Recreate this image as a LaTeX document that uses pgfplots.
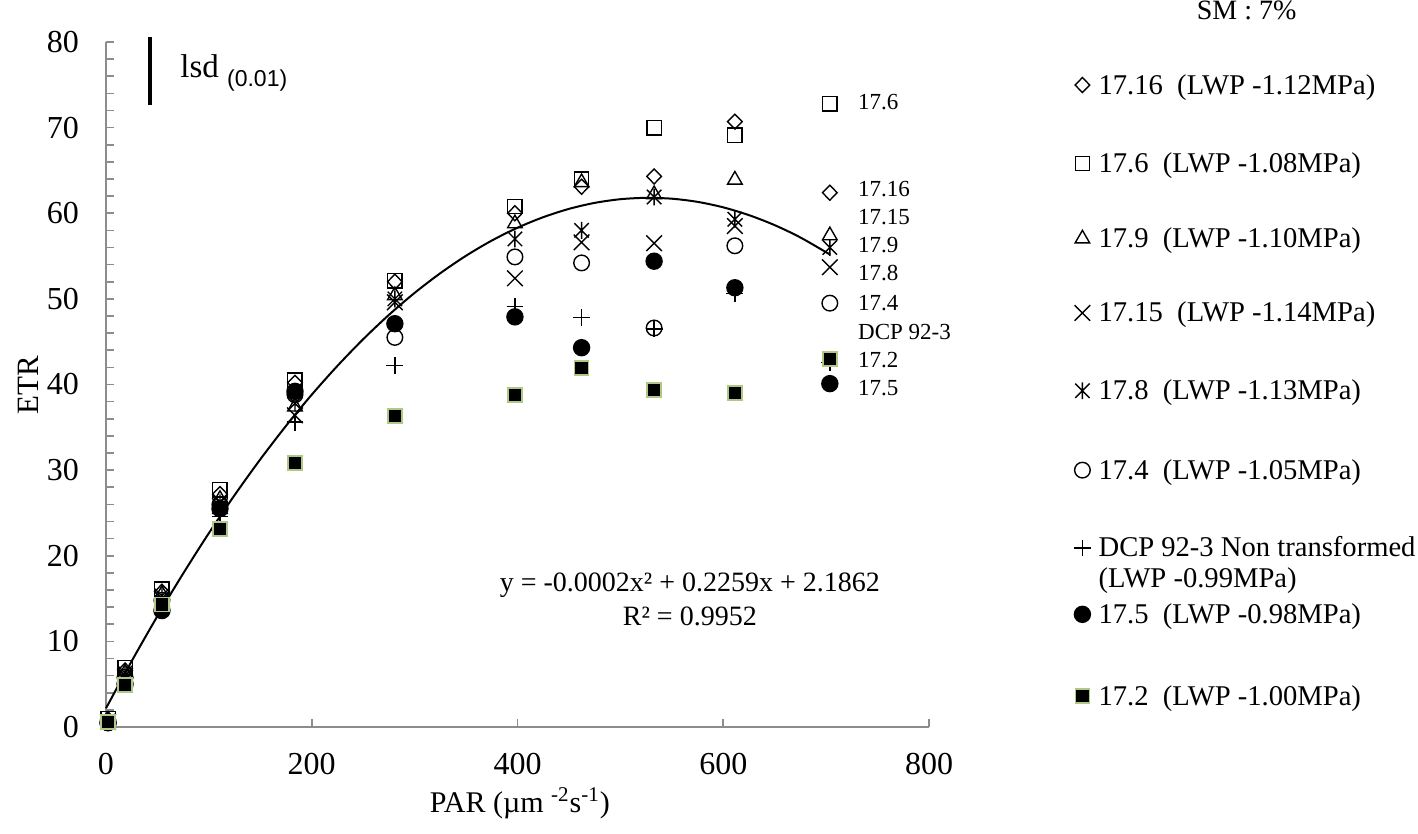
\documentclass[border=0pt]{standalone}
\usepackage{fontspec}
\setmainfont{Liberation Serif}
\newfontfamily\arialfont{Liberation Sans}
\usepackage{pgfplots}
\pgfplotsset{compat=1.18}
\definecolor{axgray}{RGB}{140,140,140}
\definecolor{edgegreen}{RGB}{175,200,135}
\newcommand{\legtxt}[2]{\raisebox{-4.5pt}[#1][0pt]{#2}}
\pgfdeclareplotmark{xx}{%
  \pgfpathmoveto{\pgfqpoint{-\pgfplotmarksize}{-\pgfplotmarksize}}%
  \pgfpathlineto{\pgfqpoint{\pgfplotmarksize}{\pgfplotmarksize}}%
  \pgfpathmoveto{\pgfqpoint{-\pgfplotmarksize}{\pgfplotmarksize}}%
  \pgfpathlineto{\pgfqpoint{\pgfplotmarksize}{-\pgfplotmarksize}}%
  \pgfusepathqstroke}
\pgfdeclareplotmark{xstar}{%
  \pgfpathmoveto{\pgfqpoint{-0.9\pgfplotmarksize}{-0.9\pgfplotmarksize}}%
  \pgfpathlineto{\pgfqpoint{0.9\pgfplotmarksize}{0.9\pgfplotmarksize}}%
  \pgfpathmoveto{\pgfqpoint{-0.9\pgfplotmarksize}{0.9\pgfplotmarksize}}%
  \pgfpathlineto{\pgfqpoint{0.9\pgfplotmarksize}{-0.9\pgfplotmarksize}}%
  \pgfpathmoveto{\pgfqpoint{0pt}{-1.05\pgfplotmarksize}}%
  \pgfpathlineto{\pgfqpoint{0pt}{1.05\pgfplotmarksize}}%
  \pgfusepathqstroke}
\pgfplotsset{
  mk/.style={only marks, black, line width=0.7pt, mark options={solid},
    legend image code/.code={\draw[##1] plot coordinates {(0pt,0pt)};}},
}
\begin{document}
\begin{tikzpicture}
\useasboundingbox (-53pt,-53.5pt) rectangle (656pt,363.5pt);
\begin{axis}[
  at={(0pt,0pt)}, anchor=south west,
  scale only axis, width=411.5pt, height=342.5pt,
  xmin=0, xmax=800, ymin=0, ymax=80,
  axis x line*=bottom, axis y line*=left,
  axis line style={axgray, line width=0.8pt},
  xtick={0,200,...,800}, ytick={0,10,...,80},
  minor y tick num=4,
  tick align=inside,
  major tick length=4pt, minor tick length=4pt,
  tick style={axgray, line width=0.8pt},
  /pgf/number format/assume math mode=true,
  ticklabel style={font=\fontsize{16}{16}\selectfont},
  xticklabel style={yshift=-9.5pt},
  yticklabel style={xshift=-10pt},
  clip=false,
  legend style={at={(1.1762,0.9934)}, anchor=north west, draw=none, fill=none,
    inner sep=0pt, outer sep=0pt, row sep=0pt, column sep=3.9pt,
    font=\fontsize{14.3}{15.5}\selectfont,
    cells={anchor=base west}, nodes={inner sep=0pt, anchor=base west}},
]
% 17.16 diamond
\addplot[mk, mark=diamond, mark size=3.75pt, mark options={xscale=1.3}] coordinates {
(2,0.9) (18.5,6.6) (54.4,15.8) (110.8,27.2) (183.7,40.2) (280.8,52.0) (397.5,60.0) (462.3,63.1) (532.8,64.3) (611.3,70.7) (703.6,62.4)};
\addlegendentry{\legtxt{19.25pt}{17.16\ \ (LWP -1.12MPa)}}
% 17.6 square
\addplot[mk, mark=square, mark size=3.6pt] coordinates {
(2,1.0) (18.5,6.9) (54.4,16.1) (110.8,27.7) (183.7,40.5) (280.8,52.1) (397.5,60.8) (462.3,64.0) (532.8,70.0) (611.3,69.1) (703.6,72.8)};
\addlegendentry{\legtxt{35.5pt}{17.6\ \ (LWP -1.08MPa)}}
% 17.9 triangle
\addplot[mk, mark=triangle, mark size=4.2pt] coordinates {
(2,0.8) (18.5,6.3) (54.4,15.5) (110.8,26.6) (183.7,37.4) (280.8,50.4) (397.5,58.8) (462.3,63.6) (532.8,62.2) (611.3,63.9) (703.6,57.4)};
\addlegendentry{\legtxt{34pt}{17.9\ \ (LWP -1.10MPa)}}
% 17.15 x
\addplot[mk, mark=xx, mark size=3.9pt] coordinates {
(2,0.6) (18.5,6.0) (54.4,15.0) (110.8,25.8) (183.7,36.4) (280.8,49.6) (397.5,52.4) (462.3,56.6) (532.8,56.5) (611.3,58.5) (703.6,53.7)};
\addlegendentry{\legtxt{35pt}{17.15\ \ (LWP -1.14MPa)}}
% 17.8 asterisk
\addplot[mk, mark=xstar, mark size=4pt] coordinates {
(2,0.7) (18.5,6.3) (54.4,15.3) (110.8,26.2) (183.7,37.8) (280.8,50.0) (397.5,57.0) (462.3,58.0) (532.8,61.9) (611.3,59.3) (703.6,56.0)};
\addlegendentry{\legtxt{35pt}{17.8\ \ (LWP -1.13MPa)}}
% 17.4 open circle
\addplot[mk, mark=o, mark size=3.9pt] coordinates {
(2,0.5) (18.5,5.8) (54.4,14.8) (110.8,26.0) (183.7,38.8) (280.8,45.5) (397.5,54.9) (462.3,54.2) (532.8,46.6) (611.3,56.2) (703.6,49.5)};
\addlegendentry{\legtxt{35.5pt}{17.4\ \ (LWP -1.05MPa)}}
% DCP plus
\addplot[mk, mark=+, mark size=4.2pt] coordinates {
(2,0.6) (18.5,5.5) (54.4,14.5) (110.8,24.6) (183.7,35.6) (280.8,42.2) (397.5,49.1) (462.3,47.8) (532.8,46.5) (611.3,50.6) (703.6,42.6)};
\addlegendentry{\legtxt{35pt}{\begin{tabular}[t]{@{}l@{}}DCP 92-3 Non transformed\\(LWP -0.99MPa)\end{tabular}}}
% 17.5 filled circle
\addplot[mk, mark=*, mark size=4pt] coordinates {
(2,0.5) (18.5,5.0) (54.4,13.6) (110.8,25.5) (183.7,39.2) (280.8,47.1) (397.5,47.9) (462.3,44.3) (532.8,54.4) (611.3,51.3) (703.6,40.1)};
\addlegendentry{\legtxt{29pt}{17.5\ \ (LWP -0.98MPa)}}
% 17.2 filled square
\addplot[mk, mark=square*, mark size=3.5pt, mark options={draw=edgegreen, fill=black, line width=0.9pt}] coordinates {
(2,0.6) (18.5,4.9) (54.4,14.3) (110.8,23.1) (183.7,30.8) (280.8,36.3) (397.5,38.8) (462.3,41.9) (532.8,39.4) (611.3,39.0) (703.6,43.0)};
\addlegendentry{\legtxt{37pt}{17.2\ \ (LWP -1.00MPa)}}
% trend line
\addplot[black, line width=1pt, smooth, forget plot] coordinates {
(0,2.19) (25,7.70) (50,12.95) (75,17.92) (100,22.64) (125,27.08) (150,31.26) (175,35.17) (200,38.81) (225,42.18) (250,45.29) (275,48.13) (300,50.70) (325,53.00) (350,55.04) (375,56.81) (400,58.31) (425,59.54) (450,60.51) (475,61.21) (500,61.64) (525,61.80) (550,61.70) (575,61.33) (600,60.69) (625,59.78) (650,58.61) (675,57.17) (704,55.16)};
% lsd bar
\addplot[black, line width=2pt, forget plot] coordinates {(42.8,72.6) (42.8,80.6)};
\node[anchor=base west, inner sep=0pt] at (axis cs:71.9,75.8) {\fontsize{16.5}{16.5}\selectfont lsd\ {\arialfont\fontsize{11.5}{11.5}\selectfont\raisebox{-4.5pt}{(0.01)}}};
% right labels
\begin{scope}[every node/.style={anchor=base west, inner sep=0pt, font=\fontsize{11.5}{11.5}\selectfont}]
\node at (axis cs:730.8,72.06) {17.6};
\node at (axis cs:730.8,62.01) {17.16};
\node at (axis cs:730.8,58.63) {17.15};
\node at (axis cs:730.8,55.36) {17.9};
\node at (axis cs:730.8,52.09) {17.8};
\node at (axis cs:730.8,48.70) {17.4};
\node at (axis cs:730.8,45.20) {DCP 92-3};
\node at (axis cs:730.8,41.93) {17.2};
\node at (axis cs:730.8,38.66) {17.5};
\end{scope}
% equation
\node[anchor=base, inner sep=0pt, font=\fontsize{14}{14}\selectfont] at (axis cs:567.5,15.88) {y = -0.0002x² + 0.2259x + 2.1862};
\node[anchor=base, inner sep=0pt, font=\fontsize{14}{14}\selectfont] at (axis cs:567.5,11.91) {R² = 0.9952};
% axis labels
\node[anchor=center, inner sep=0pt, font=\fontsize{15}{15}\selectfont] at (axis cs:402.3,-8.88) {PAR (µm \textsuperscript{-2}s\textsuperscript{-1})};
\node[anchor=center, inner sep=0pt, rotate=90, font=\fontsize{15.5}{15.5}\selectfont] at (axis cs:-75.8,39.9) {ETR};
% SM
\node[anchor=base, inner sep=0pt, font=\fontsize{14}{14}\selectfont] at (axis cs:1108.8,82.57) {SM : 7\%};
\end{axis}
\end{tikzpicture}
\end{document}
